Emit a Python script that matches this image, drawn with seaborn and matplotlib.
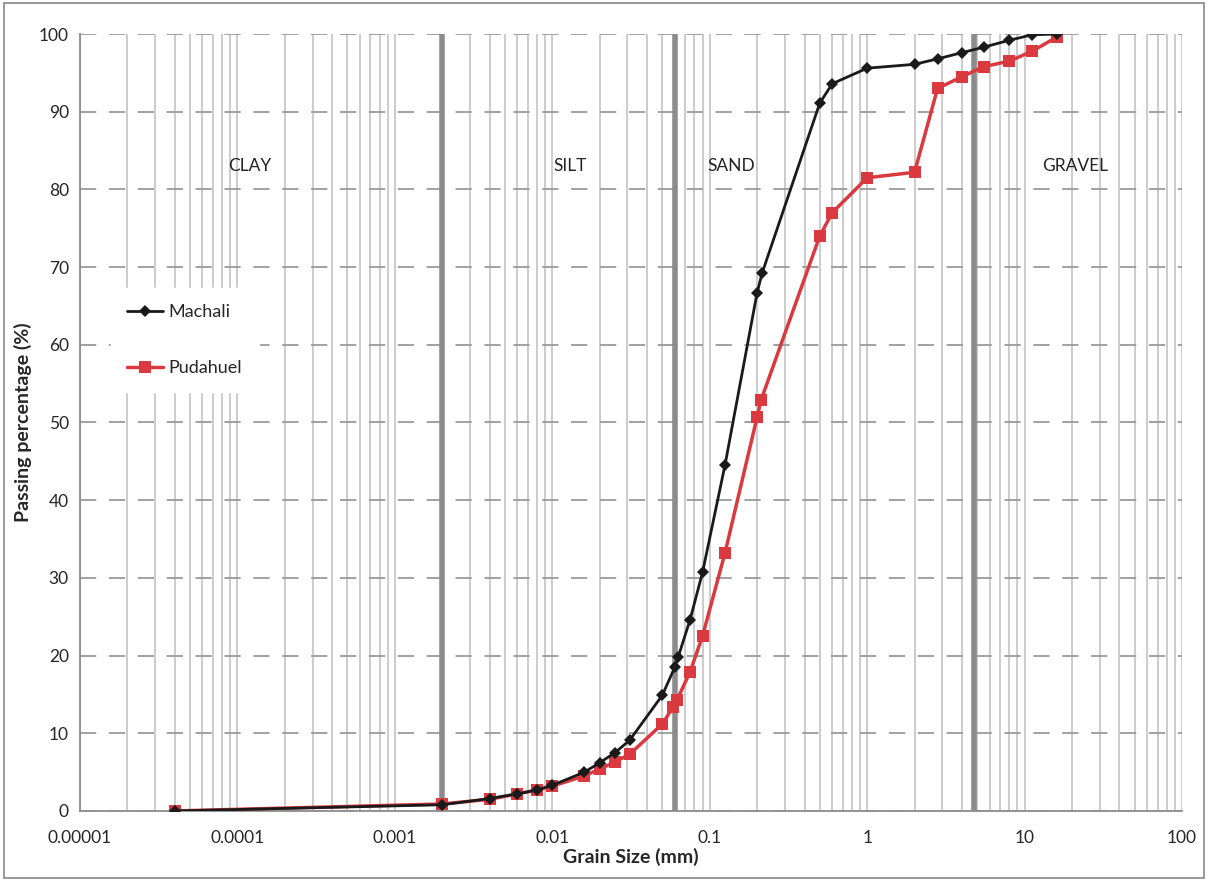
import numpy as np
import pandas as pd
import seaborn as sns
import matplotlib.pyplot as plt
from matplotlib.ticker import LogLocator, FixedLocator, FixedFormatter

# grain size curves (mm, % passing)
machali_size = [0.00004, 0.002, 0.004, 0.006, 0.008, 0.01, 0.016, 0.02, 0.025, 0.031,
                0.05, 0.06, 0.063, 0.075, 0.09, 0.125, 0.2, 0.215, 0.5, 0.6,
                1, 2, 2.8, 4, 5.5, 8, 11.2, 16]
machali_pass = [0.0, 0.8, 1.6, 2.2, 2.7, 3.3, 5.0, 6.2, 7.5, 9.1,
                14.9, 18.5, 19.8, 24.6, 30.7, 44.5, 66.7, 69.2, 91.1, 93.6,
                95.6, 96.1, 96.8, 97.6, 98.3, 99.2, 99.9, 100.0]

pudahuel_size = [0.00004, 0.002, 0.004, 0.006, 0.008, 0.01, 0.016, 0.02, 0.025, 0.031,
                 0.05, 0.0586, 0.062, 0.075, 0.09, 0.125, 0.2, 0.212, 0.5, 0.6,
                 1, 2, 2.8, 4, 5.5, 8, 11.2, 16]
pudahuel_pass = [0.0, 0.9, 1.5, 2.2, 2.7, 3.2, 4.5, 5.4, 6.3, 7.3,
                 11.2, 13.4, 14.3, 17.9, 22.5, 33.2, 50.7, 52.9, 74.0, 77.0,
                 81.5, 82.2, 93.0, 94.5, 95.8, 96.5, 97.8, 99.6]

# soil class boundaries and labels
boundaries = [0.002, 0.06, 4.75]
zone_names = ['CLAY', 'SILT', 'SAND', 'GRAVEL']
zone_x = [0.00012, 0.013, 0.138, 21]

x_ticks = [0.00001, 0.0001, 0.001, 0.01, 0.1, 1, 10, 100]
x_labels = ['0.00001', '0.0001', '0.001', '0.01', '0.1', '1', '10', '100']

sns.set_style('white')
plt.rcParams['font.family'] = ['Lato', 'DejaVu Sans']

fig = plt.figure(figsize=(12.08, 8.81), dpi=100)
ax = fig.add_axes([0.0662, 0.0795, 0.9123, 0.8819])
ax.set_xscale('log')
ax.set_xlim(1e-5, 100)
ax.set_ylim(0, 100)

# grid: every minor decade line plus dashed horizontals
ax.xaxis.set_major_locator(FixedLocator(x_ticks))
ax.xaxis.set_major_formatter(FixedFormatter(x_labels))
ax.xaxis.set_minor_locator(LogLocator(base=10, subs=np.arange(2, 10)))
ax.xaxis.set_minor_formatter(plt.NullFormatter())
ax.grid(True, axis='x', which='both', color='#c8c8c8', lw=1.3)
ax.set_yticks(range(0, 101, 10))
ax.grid(True, axis='y', which='major', color='#9a9a9a', lw=1.3, ls=(0, (9, 7)))
ax.set_axisbelow(True)

for b in boundaries:
    ax.axvline(b, color='#8c8c8c', lw=4, zorder=1)

for name, zx in zip(zone_names, zone_x):
    ax.text(zx, 83, name, ha='center', va='center', fontsize=12.5, color='#222222')

df_m = pd.DataFrame({'size': machali_size, 'passing': machali_pass})
df_p = pd.DataFrame({'size': pudahuel_size, 'passing': pudahuel_pass})

sns.lineplot(data=df_m, x='size', y='passing', sort=False, color='#1a1a1a', lw=2,
             marker='D', markersize=6, markeredgewidth=0, label='Machali', ax=ax, zorder=4)
sns.lineplot(data=df_p, x='size', y='passing', sort=False, color='#d9393f', lw=2.5,
             marker='s', markersize=8, markeredgewidth=0, label='Pudahuel', ax=ax, zorder=3)

leg = ax.legend(loc='center left', bbox_to_anchor=(0.02, 0.606), frameon=True,
                fancybox=False, edgecolor='white', facecolor='white', framealpha=1,
                fontsize=13, labelspacing=2.2, handlelength=2.0, handletextpad=0.3,
                borderpad=0.9)

for s in ['top', 'right']:
    ax.spines[s].set_visible(False)
for s in ['left', 'bottom']:
    ax.spines[s].set_color('#8c8c8c')
    ax.spines[s].set_linewidth(1.3)

ax.tick_params(axis='x', which='major', length=6, color='#8c8c8c', labelsize=12.5, pad=8, direction='out')
ax.tick_params(axis='x', which='minor', length=0)
ax.tick_params(axis='y', length=0, labelsize=12.5, pad=8)
ax.set_xlabel('Grain Size (mm)', fontsize=14, fontweight='bold', labelpad=1)
ax.set_ylabel('Passing percentage (%)', fontsize=14, fontweight='bold', labelpad=5)

fig.patches.append(plt.Rectangle((0.003, 0.003), 0.994, 0.994, transform=fig.transFigure,
                                 fill=False, edgecolor='#888888', lw=1.2))

fig.savefig('out.png', dpi=100)
